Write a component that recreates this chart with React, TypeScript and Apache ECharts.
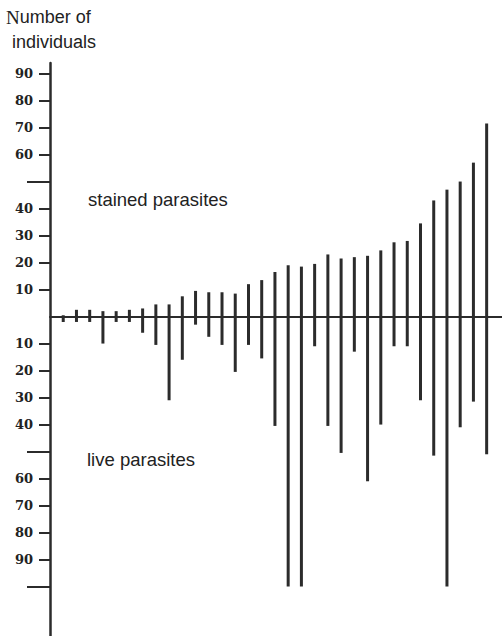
import React, { useEffect, useRef } from "react";
import * as echarts from "echarts";

// Sample positions (one vertical bar pair per sample)
const samples = [1, 2, 3, 4, 5, 6, 7, 8, 9, 10, 11, 12, 13, 14, 15, 16, 17, 18, 19, 20, 21, 22, 23, 24, 25, 26, 27, 28, 29, 30, 31, 32, 33];
// Number of stained parasites (upward)
const stained = [0.5, 2.5, 2.5, 2, 2, 2.5, 3, 4.5, 4.5, 7.5, 9.5, 9, 9, 8.5, 12, 13.5, 16.5, 19, 18.5, 19.5, 23, 21.5, 22, 22.5, 24.5, 27.5, 28, 34.5, 43, 47, 50, 57, 71.5];
// Number of live parasites (downward)
const live = [2, 2, 2, 10, 2, 2, 6, 10.5, 31, 16, 3, 7.5, 10.5, 20.5, 10.5, 15.5, 40.5, 100, 100, 11, 40.5, 50.5, 13, 61, 40, 11, 11, 31, 51.5, 100, 41, 31.5, 51];
// Labelled ticks (signed: positive = stained side, negative = live side)
const labelledTicks = [90, 80, 70, 60, 40, 30, 20, 10, -10, -20, -30, -40, -60, -70, -80, -90];
// Unlabelled long ticks
const longTicks = [50, -50, -100];

const Y_MIN = -118.3;
const Y_MAX = 93.9;
const X_MAX = 34.16;
const INK = "#2b2b2b";

export default function App() {
  const ref = useRef<HTMLDivElement>(null);
  useEffect(() => {
    if (!ref.current) return;
    const chart = echarts.init(ref.current, null, { renderer: "svg" });
    const sans = "'Liberation Sans', Arial, sans-serif";
    chart.setOption({
      animation: false,
      backgroundColor: "#ffffff",
      grid: { left: 50, right: 0, top: 63, bottom: 0, outerBoundsMode: "none" },
      xAxis: {
        type: "value",
        min: 0,
        max: X_MAX,
        axisLine: { show: true, onZero: true, onZeroAxisIndex: 0, lineStyle: { color: INK, width: 2 } },
        axisTick: { show: false },
        axisLabel: { show: false },
        splitLine: { show: false },
      },
      yAxis: [
        {
          type: "value",
          position: "left",
          min: Y_MIN,
          max: Y_MAX,
          axisLine: { show: true, lineStyle: { color: INK, width: 2.5 } },
          axisTick: {
            show: true,
            customValues: labelledTicks,
            length: 11,
            lineStyle: { color: INK, width: 2 },
          },
          axisLabel: {
            show: true,
            customValues: labelledTicks,
            margin: 17,
            formatter: (v: number) => String(Math.abs(Math.round(v))),
            color: "#222",
            fontFamily: "'DejaVu Serif', serif",
            fontWeight: "bold",
            fontSize: 13,
          },
          splitLine: { show: false },
        },
        {
          type: "value",
          position: "left",
          min: Y_MIN,
          max: Y_MAX,
          axisLine: { show: false },
          axisTick: {
            show: true,
            customValues: longTicks,
            length: 23,
            lineStyle: { color: INK, width: 2 },
          },
          axisLabel: { show: false },
          splitLine: { show: false },
        },
      ],
      series: [
        {
          name: "stained parasites",
          type: "bar",
          xAxisIndex: 0,
          yAxisIndex: 0,
          barWidth: 3,
          barGap: "-100%",
          itemStyle: { color: INK },
          data: samples.map((s, i) => [s, stained[i]]),
        },
        {
          name: "live parasites",
          type: "bar",
          xAxisIndex: 0,
          yAxisIndex: 0,
          barWidth: 3,
          barGap: "-100%",
          itemStyle: { color: INK },
          data: samples.map((s, i) => [s, -live[i]]),
        },
      ],
      graphic: [
        {
          type: "text",
          x: 6,
          y: 17,
          style: {
            text: "{n|N}{r|umber of}",
            verticalAlign: "middle",
            rich: {
              n: { fontFamily: "'Liberation Serif', serif", fontSize: 19, fill: "#222" },
              r: { fontFamily: sans, fontSize: 18, fill: "#222" },
            },
          },
        },
        {
          type: "text",
          x: 12,
          y: 42,
          style: { text: "individuals", font: `18px ${sans}`, fill: "#222", verticalAlign: "middle" },
        },
        {
          type: "text",
          x: 88,
          y: 199,
          style: { text: "stained parasites", font: `18.5px ${sans}`, fill: "#222", verticalAlign: "middle" },
        },
        {
          type: "text",
          x: 87,
          y: 459,
          style: { text: "live parasites", font: `18.5px ${sans}`, fill: "#222", verticalAlign: "middle" },
        },
      ],
    });
    return () => chart.dispose();
  }, []);
  return (
    <div
      ref={ref}
      style={{ position: "fixed", left: 0, top: 0, width: 502, height: 636, background: "#fff" }}
    />
  );
}
